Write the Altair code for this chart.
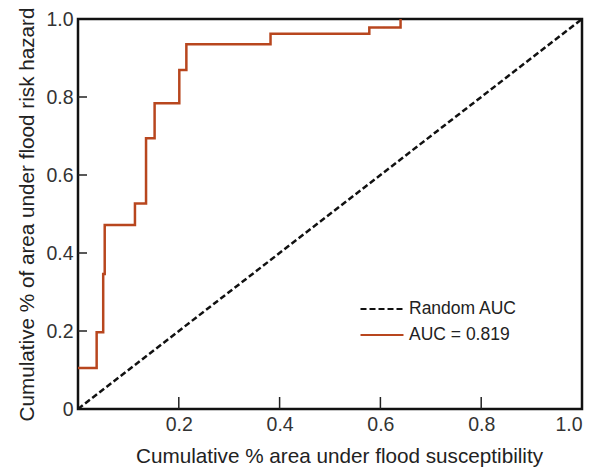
import altair as alt
import pandas as pd

# ROC curve corners (false positive share, true positive share), drawn as step-after
roc_x = [0.0, 0.037, 0.050, 0.053, 0.113, 0.135, 0.152, 0.201, 0.215, 0.382, 0.578, 0.640]
roc_y = [0.105, 0.197, 0.346, 0.472, 0.527, 0.694, 0.784, 0.869, 0.935, 0.962, 0.978, 1.0]

# Random reference line
rand_x = [0.0, 1.0]
rand_y = [0.0, 1.0]

series_names = ["Random AUC", "AUC = 0.819"]
series_colors = ["#111111", "#b8461e"]

x_label_values = [0.2, 0.4, 0.6, 0.8, 1.0]
x_tick_values = [0.2, 0.4, 0.6, 0.8]
y_label_values = [0.0, 0.2, 0.4, 0.6, 0.8, 1.0]
y_tick_values = [0.2, 0.4, 0.6, 0.8]

df_roc = pd.DataFrame({"x": roc_x, "y": roc_y, "series": series_names[1]})
df_rand = pd.DataFrame({"x": rand_x, "y": rand_y, "series": series_names[0]})
df_xt = pd.DataFrame({"v": x_tick_values})
df_yt = pd.DataFrame({"v": y_tick_values})

FONT = "Liberation Sans"
label_expr = "datum.value == 0 ? '0' : format(datum.value, '.1f')"

xscale = alt.Scale(domain=[0, 1], nice=False, zero=False)
yscale = alt.Scale(domain=[0, 1], nice=False, zero=False)

color_enc = alt.Color(
    "series:N",
    scale=alt.Scale(domain=series_names, range=series_colors),
    legend=alt.Legend(
        title=None,
        orient="none",
        legendX=292,
        legendY=278,
        symbolType="M-2,0L2,0",
        symbolSize=462,
        symbolStrokeWidth=2,
        labelFontSize=17.5,
        labelFont=FONT,
        labelColor="#222222",
        labelOffset=15,
        rowPadding=5,
        padding=0,
    ),
)
dash_enc = alt.StrokeDash(
    "series:N",
    scale=alt.Scale(domain=series_names, range=[[6, 3], [1, 0]]),
    legend=alt.Legend(title=None),
)

x_axis = alt.Axis(
    values=x_label_values,
    ticks=False,
    domain=False,
    grid=False,
    labelExpr=label_expr,
    labelFont=FONT,
    labelFontSize=19.5,
    labelColor="#333333",
    labelPadding=6,
    title="Cumulative % area under flood susceptibility",
    titleFont=FONT,
    titleFontSize=20.7,
    titleFontWeight="normal",
    titleColor="#222222",
    titlePadding=13,
    titleX=261,
    titleAlign="center",
    orient="bottom",
)
y_axis = alt.Axis(
    values=y_label_values,
    ticks=False,
    domain=False,
    grid=False,
    labelExpr=label_expr,
    labelFont=FONT,
    labelFontSize=19.5,
    labelColor="#333333",
    labelPadding=5,
    title="Cumulative % of area under flood risk hazard",
    titleFont=FONT,
    titleFontSize=20.7,
    titleFontWeight="normal",
    titleColor="#222222",
    titlePadding=8,
    orient="left",
)

diag = alt.Chart(df_rand).mark_line(strokeWidth=2.5, clip=True).encode(
    x=alt.X("x:Q", scale=xscale, axis=x_axis),
    y=alt.Y("y:Q", scale=yscale, axis=y_axis),
    color=color_enc,
    strokeDash=dash_enc,
)

roc = alt.Chart(df_roc).mark_line(strokeWidth=2.5, interpolate="step-after", clip=True).encode(
    x=alt.X("x:Q", scale=xscale),
    y=alt.Y("y:Q", scale=yscale),
    color=color_enc,
    strokeDash=dash_enc,
)

# inward tick marks placed through the shared scales
x_ticks = alt.Chart(df_xt).mark_rule(color="#222222", strokeWidth=1.5).encode(
    x=alt.X("v:Q", scale=xscale),
    y=alt.value(378),
    y2=alt.value(390),
)
y_ticks = alt.Chart(df_yt).mark_rule(color="#222222", strokeWidth=1.5).encode(
    y=alt.Y("v:Q", scale=yscale),
    x=alt.value(0),
    x2=alt.value(9),
)

chart = (
    alt.layer(diag, roc, x_ticks, y_ticks)
    .properties(
        width=504,
        height=390,
        autosize=alt.AutoSizeParams(type="none"),
        padding={"left": 70, "top": 11, "right": 6, "bottom": 62},
        background="white",
    )
    .configure_view(stroke="#111111", strokeWidth=2.5)
)

chart.save("out.html", embed_options={"renderer": "svg", "actions": False})
